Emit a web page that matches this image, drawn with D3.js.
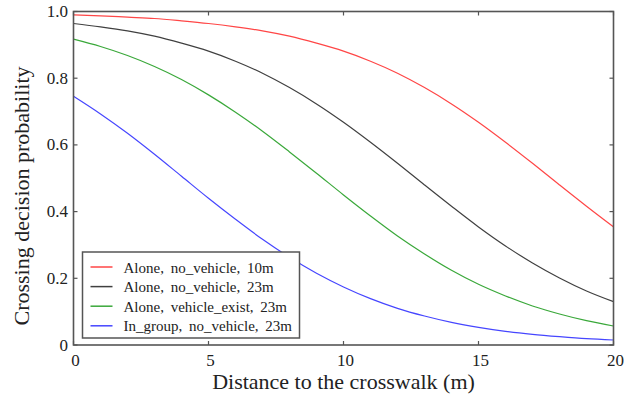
<!DOCTYPE html>
<html>
<head>
<meta charset="utf-8">
<script src="https://cdn.jsdelivr.net/npm/d3@7"></script>
<style>
  body { margin: 0; background: #fff; }
</style>
</head>
<body>
<div id="chart"><svg></svg></div>
<script>
const width = 633;
const height = 395;

// distance (m) read at each whole metre
const distances = [0,1,2,3,4,5,6,7,8,9,10,11,12,13,14,15,16,17,18,19,20];

// probabilities
const aloneNoVeh10 = [0.990,0.987,0.983,0.979,0.972,0.964,0.954,0.942,0.926,0.905,0.881,0.851,0.815,0.772,0.723,0.668,0.608,0.545,0.480,0.416,0.354];
const aloneNoVeh23 = [0.964,0.954,0.942,0.926,0.905,0.881,0.851,0.815,0.772,0.723,0.668,0.608,0.545,0.480,0.416,0.354,0.297,0.246,0.201,0.162,0.130];
const aloneVehExist23 = [0.917,0.895,0.868,0.835,0.796,0.750,0.698,0.641,0.579,0.515,0.450,0.387,0.327,0.273,0.224,0.182,0.147,0.117,0.093,0.073,0.057];
const inGroupNoVeh23 = [0.746,0.693,0.635,0.572,0.506,0.440,0.377,0.317,0.263,0.215,0.174,0.139,0.110,0.087,0.068,0.053,0.041,0.032,0.025,0.019,0.015];

const seriesNames = ['Alone, no_vehicle, 10m', 'Alone, no_vehicle, 23m', 'Alone, vehicle_exist, 23m', 'In_group, no_vehicle, 23m'];
const seriesColors = ['#ff4646', '#404040', '#3aa83a', '#4646ff'];
const seriesValues = [aloneNoVeh10, aloneNoVeh23, aloneVehExist23, inGroupNoVeh23];

const xTicks = [0, 5, 10, 15, 20];
const yTicks = [0, 0.2, 0.4, 0.6, 0.8, 1.0];
const yTickLabels = ['0', '0.2', '0.4', '0.6', '0.8', '1.0'];

const margin = {left: 73.5, right: 19.5, top: 11.5, bottom: 50};
const serif = 'Liberation Serif';

const svg = d3.select('#chart').select('svg')
    .attr('width', width)
    .attr('height', height)
    .attr('font-family', serif);

const x = d3.scaleLinear().domain([0, 20]).range([margin.left, width - margin.right]);
const y = d3.scaleLinear().domain([0, 1]).range([height - margin.bottom, margin.top]);

const frameColor = '#555';

// curves
const line = d3.line()
    .x((d, i) => x(distances[i]))
    .y(d => y(d))
    .curve(d3.curveMonotoneX);

svg.append('g')
  .selectAll('path')
  .data(seriesValues)
  .join('path')
    .attr('d', d => line(d))
    .attr('fill', 'none')
    .attr('stroke', (d, i) => seriesColors[i])
    .attr('stroke-width', 1.2);

// ticks pointing inward on all four sides
const tickLen = 4;
const gT = svg.append('g').attr('stroke', frameColor).attr('stroke-width', 1.2);
xTicks.forEach(t => {
  gT.append('line').attr('x1', x(t)).attr('x2', x(t)).attr('y1', y(0)).attr('y2', y(0) - tickLen);
  gT.append('line').attr('x1', x(t)).attr('x2', x(t)).attr('y1', y(1)).attr('y2', y(1) + tickLen);
});
yTicks.forEach(t => {
  gT.append('line').attr('x1', x(0)).attr('x2', x(0) + tickLen).attr('y1', y(t)).attr('y2', y(t));
  gT.append('line').attr('x1', x(20)).attr('x2', x(20) - tickLen).attr('y1', y(t)).attr('y2', y(t));
});

// frame
svg.append('rect')
    .attr('x', x(0)).attr('y', y(1))
    .attr('width', x(20) - x(0)).attr('height', y(0) - y(1))
    .attr('fill', 'none')
    .attr('stroke', frameColor)
    .attr('stroke-width', 1.6);

// tick labels
svg.append('g')
  .selectAll('text')
  .data(xTicks)
  .join('text')
    .attr('x', d => x(d) + 2)
    .attr('y', y(0) + 20.5)
    .attr('text-anchor', 'middle')
    .attr('font-size', 17)
    .attr('fill', '#222')
    .text(d => d);

svg.append('g')
  .selectAll('text')
  .data(yTicks)
  .join('text')
    .attr('x', x(0) - 5.5)
    .attr('y', d => y(d) + 5.5)
    .attr('text-anchor', 'end')
    .attr('font-size', 17)
    .attr('fill', '#222')
    .text((d, i) => yTickLabels[i]);

// axis titles
svg.append('text')
    .attr('x', (x(0) + x(20)) / 2)
    .attr('y', 389)
    .attr('text-anchor', 'middle')
    .attr('font-size', 22)
    .attr('fill', '#222')
    .text('Distance to the crosswalk (m)');

svg.append('text')
    .attr('transform', 'translate(29,196) rotate(-90)')
    .attr('text-anchor', 'middle')
    .attr('font-size', 22)
    .attr('fill', '#222')
    .text('Crossing decision probability');

// legend
const legend = svg.append('g').attr('transform', 'translate(82.5,252)');
legend.append('rect')
    .attr('width', 217).attr('height', 86)
    .attr('fill', '#fff')
    .attr('stroke', frameColor)
    .attr('stroke-width', 1.5);

const rows = legend.selectAll('g.row')
  .data(seriesNames)
  .join('g')
    .attr('class', 'row')
    .attr('transform', (d, i) => `translate(0,${15 + i * 19.6})`);

rows.append('line')
    .attr('x1', 8).attr('x2', 30)
    .attr('stroke', (d, i) => seriesColors[i])
    .attr('stroke-width', 1.5);

rows.append('text')
    .attr('x', 41)
    .attr('y', 5.5)
    .attr('font-size', 15)
    .attr('word-spacing', 3)
    .attr('fill', '#222')
    .text(d => d);
</script>
</body>
</html>
